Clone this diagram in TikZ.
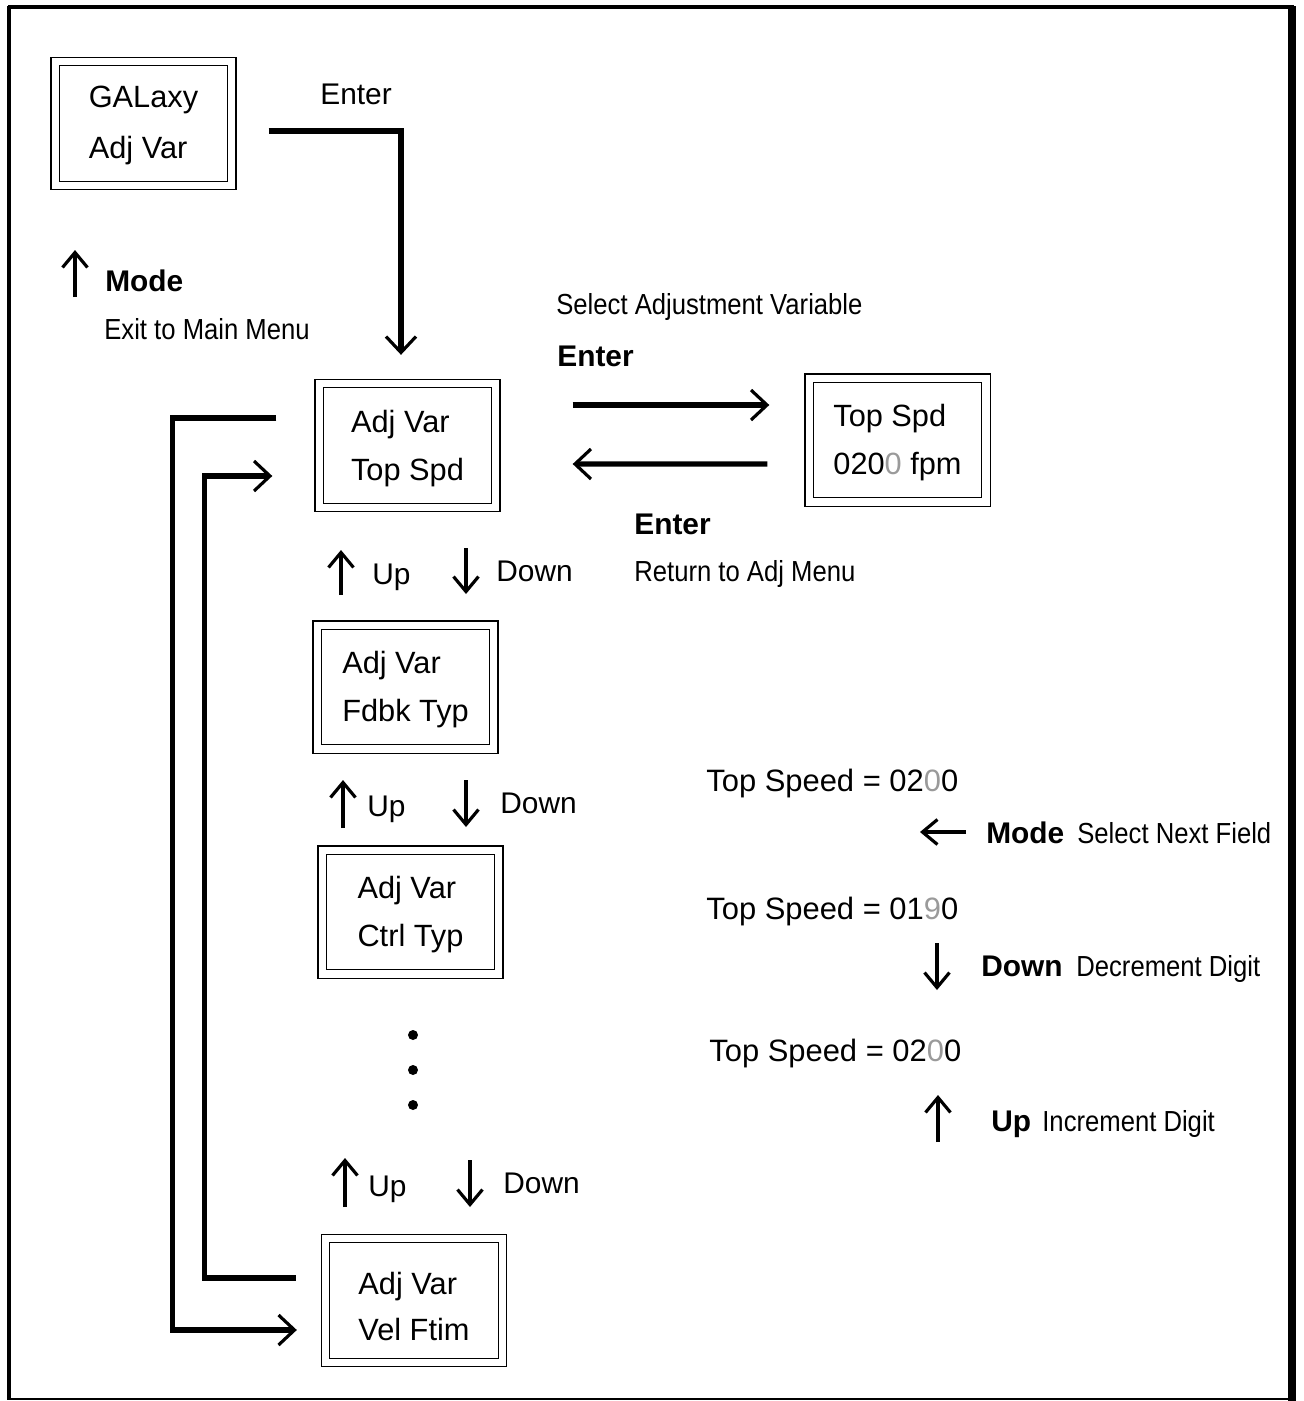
\documentclass[tikz,border=0pt]{standalone}
\usepackage{fontspec}
\setmainfont{Liberation Sans}
\newfontfamily\narrowfont[FakeStretch=0.885]{Liberation Sans}
\usetikzlibrary{calc,arrows.meta}
\definecolor{digitgrey}{HTML}{9A9A9A}
\newcommand{\greydigit}[1]{\textcolor{digitgrey}{#1}}

\begin{document}
\begin{tikzpicture}[x=0.02cm, y=-0.02cm,
  lcd/.style={draw, double, double distance=4pt, line width=0.8pt,
    minimum width=3.54cm, minimum height=2.48cm, inner sep=0pt,
    text height=40pt, text depth=0.3pt,
    align=left, font=\fontsize{17.5}{27.5}\selectfont},
  key/.style={anchor=base west, inner sep=0pt, font=\fontsize{17}{20}\selectfont},
  keyb/.style={key, font=\fontsize{17}{20}\selectfont\bfseries},
  speed/.style={key, font=\fontsize{17.6}{20}\selectfont},
  note/.style={anchor=base west, inner sep=0pt, font=\narrowfont\fontsize{16.5}{20}\selectfont},
  flow/.style={line width=3pt, -{Straight Barb[length=0.32cm, width=0.6cm, line width=1.8pt]}},
  press/.style={line width=2pt, -{Straight Barb[length=0.3cm, width=0.5cm, line width=1.8pt]}}]
  \useasboundingbox (0,0) rectangle (1303,1401);
  % Frame round the whole sheet.
  \draw[line width=2.3pt] (8,7) -- (1294,7);
  \draw[line width=1.8pt] (9,6) -- (9,1400);
  \draw[line width=4.5pt] (1292,6) -- (1292,1401);
  \draw[line width=1.6pt] (8,1399) -- (1294,1399);

  % Display boxes.
  \node[lcd] (galaxy) at (143.5,123.5) {GALaxy\\[0.06cm]Adj Var};
  \node[lcd] (topspd) at (407.5,445.5) {Adj Var\\Top Spd};
  \node[lcd] (value) at (897.5,440) {Top Spd\\020\greydigit{0} fpm};
  \node[lcd] (fdbk) at (405.5,687) {Adj Var\\Fdbk Typ};
  \node[lcd] (ctrl) at (410.5,912) {Adj Var\\Ctrl Typ};
  \node[lcd, text height=46pt, font=\fontsize{17.5}{26}\selectfont] (velftim) at (414,1300.5) {Adj Var\\Vel Ftim};

  % Enter from the main menu.
  \node[key] (enterA) at (320,104) {Enter};
  \draw[flow, shorten <=0.72cm, shorten >=0.56cm]
    ($(galaxy.east)+(0,7.5)$) -| ($(topspd.north)+(-6.5,0)$);

  % Mode: back to the main menu.
  \node[keyb] (mode) at (105,291) {Mode};
  \node[note] (exit) at (104,339) {Exit to Main Menu};
  \draw[press] ($(mode.base west)+(-30,6)$) -- ++(0,-47);

  % Into the variable and back.
  \node[note] (select) at (556,314) {Select Adjustment Variable};
  \node[keyb] (enterB) at (557,366) {Enter};
  \draw[flow, shorten <=1.52cm, shorten >=0.78cm]
    ($(topspd.east)+(0,-40.5)$) -- ($(value.west)+(0,-35)$);
  \draw[flow, shorten <=0.82cm, shorten >=1.52cm]
    ($(value.west)+(0,24)$) -- ($(topspd.east)+(0,18.5)$);
  \node[keyb] (enterC) at (634,534) {Enter};
  \node[note] (ret) at (634,581) {Return to Adj Menu};

  % Up / Down between the variables.
  \node[key] (up1) at (372,584) {Up};
  \node[key] (down1) at (496,581) {Down};
  \draw[press] ($(up1.base west)+(-31,11)$) -- ++(0,-45);
  \draw[press] ($(down1.base west)+(-30,-33)$) -- ++(0,46);
  \node[key] (up2) at (367,816) {Up};
  \node[key] (down2) at (500,813) {Down};
  \draw[press] ($(up2.base west)+(-24,12)$) -- ++(0,-48);
  \draw[press] ($(down2.base west)+(-34,-33)$) -- ++(0,47);
  \foreach \y in {1035,1070,1105}
    \fill (413,\y) circle (0.1cm);
  \node[key] (up3) at (368,1196) {Up};
  \node[key] (down3) at (503,1193) {Down};
  \draw[press] ($(up3.base west)+(-23,11)$) -- ++(0,-49);
  \draw[press] ($(down3.base west)+(-33,-33)$) -- ++(0,47);

  % Wrap round from first to last variable and back.
  \draw[flow, shorten <=0.84cm, shorten >=0.56cm]
    ($(topspd.west)+(0,-27.5)$) -- ++(-146,0) |- ($(velftim.west)+(0,29.5)$);
  \draw[flow, shorten <=0.58cm, shorten >=0.92cm]
    ($(velftim.west)+(0,-22.5)$) -- ++(-120,0) |- ($(topspd.west)+(0,30.5)$);

  % Editing the value.
  \node[speed] (speedA) at (706,791) {Top Speed = 02\greydigit{0}0};
  \node[keyb] (modeR) at (986,843) {Mode};
  \node[note] (nextR) at (1077,843) {Select Next Field};
  \draw[press] ($(modeR.base west)+(-20,-11)$) -- ++(-46,0);
  \node[speed] (speedB) at (706,919) {Top Speed = 01\greydigit{9}0};
  \node[keyb] (downR) at (981,976) {Down};
  \node[note] (decR) at (1076,976) {Decrement Digit};
  \draw[press] ($(downR.base west)+(-44,-33)$) -- ++(0,47);
  \node[speed] (speedC) at (709,1061) {Top Speed = 02\greydigit{0}0};
  \node[keyb] (upR) at (991,1131) {Up};
  \node[note] (incR) at (1042,1131) {Increment Digit};
  \draw[press] ($(upR.base west)+(-53,11)$) -- ++(0,-47);
\end{tikzpicture}
\end{document}
